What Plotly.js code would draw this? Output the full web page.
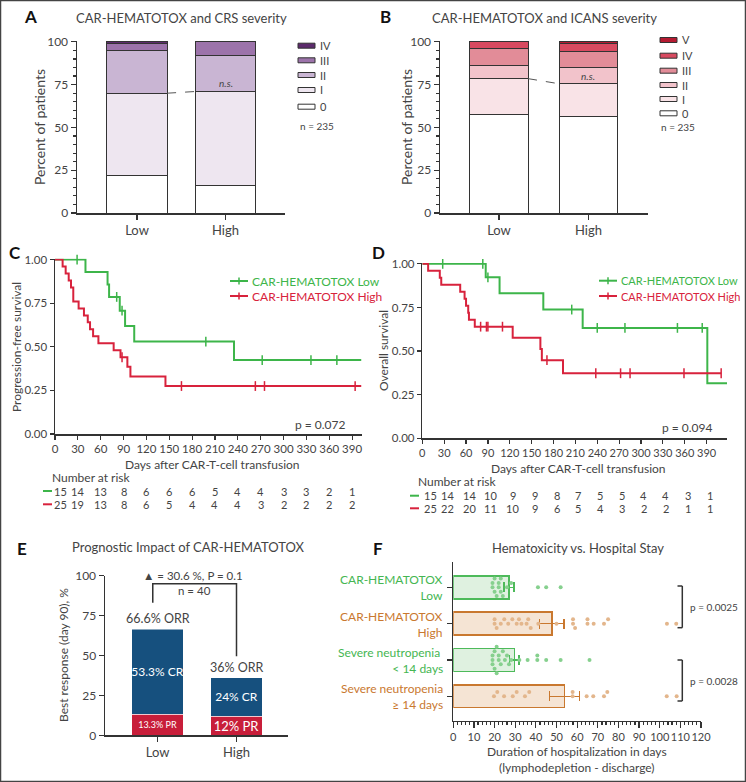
<!DOCTYPE html>
<html><head><meta charset="utf-8">
<script src="https://cdn.plot.ly/plotly-3.0.1.min.js"></script>
<style>html,body{margin:0;padding:0;background:#fff}#chart{width:746px;height:782px}</style>
</head><body><div id="chart"></div>
<script>
// ================= DATA =================
const groups = ['Low', 'High'];
// Panel A: CRS severity (% of patients, stacked segments)
const crsGrades = ['0', 'I', 'II', 'III', 'IV'];
const crsLow  = [22, 48, 25, 4, 1];
const crsHigh = [16, 55, 21, 8, 0];
// Panel B: ICANS severity
const icansGrades = ['0', 'I', 'II', 'III', 'IV', 'V'];
const icansLow  = [57.5, 21, 7.5, 10, 4, 0];
const icansHigh = [56.5, 19, 9.5, 9.5, 4.5, 1];
const cohortN = 235;
// Panel C: progression-free survival (step times / survival, censor times)
const pfsLowT  = [0, 40, 69, 71, 85, 92, 104, 235];
const pfsLowS  = [1, 0.929, 0.857, 0.786, 0.707, 0.619, 0.530, 0.424];
const pfsLowEnd = 402;
const pfsLowCens = [29, 81, 88, 198, 272, 336, 370];
const pfsHighT = [0, 10, 14, 18, 21, 24, 31, 38, 43, 46, 50, 57, 77, 86, 95, 99, 145];
const pfsHighS = [1, 0.96, 0.92, 0.88, 0.84, 0.76, 0.72, 0.68, 0.64, 0.60, 0.56, 0.52, 0.48, 0.44, 0.385, 0.33, 0.275];
const pfsHighEnd = 402;
const pfsHighCens = [88, 166, 263, 275, 394];
const pfsP = 'p = 0.072';
// Panel D: overall survival
const osLowT  = [0, 87, 106, 166, 220, 391];
const osLowS  = [1, 0.923, 0.831, 0.738, 0.633, 0.316];
const osLowEnd = 418;
const osLowCens = [28, 83, 90, 205, 240, 278, 350, 384];
const osHighT = [0, 8, 24, 26, 52, 58, 60, 63, 64, 72, 124, 162, 164, 193];
const osHighS = [1, 0.96, 0.92, 0.88, 0.84, 0.80, 0.76, 0.72, 0.68, 0.64, 0.576, 0.512, 0.448, 0.373];
const osHighEnd = 410;
const osHighCens = [80, 88, 90, 110, 171, 238, 272, 285, 359, 410];
const osP = 'p = 0.094';
// Numbers at risk
const riskDays = [0, 30, 60, 90, 120, 150, 180, 210, 240, 270, 300, 330, 360, 390];
const pfsRiskLow  = [15, 14, 13, 8, 6, 6, 6, 5, 4, 4, 3, 3, 2, 1];
const pfsRiskHigh = [25, 19, 13, 8, 6, 5, 4, 4, 4, 3, 2, 2, 2, 2];
const osRiskLow   = [15, 14, 14, 10, 9, 9, 8, 7, 5, 5, 4, 4, 3, 1];
const osRiskHigh  = [25, 22, 20, 11, 10, 9, 6, 5, 4, 3, 2, 2, 1, 1];
// Panel E: best response day 90 (%)
const prVals = [13.3, 12];
const crVals = [53.3, 24];
const deltaText = '▲ = 30.6 %, P = 0.1';
const respN = 'n = 40';
// Panel F: hospital stay (days)
const hospCats = ['CAR-HEMATOTOX<br>Low', 'CAR-HEMATOTOX<br>High', 'Severe neutropenia <br>&lt; 14 days', 'Severe neutropenia<br>≥ 14 days'];
const hospMean = [27, 47.7, 29.6, 53.8];
const hospErr  = [2.4, 5.9, 2.3, 7.3];
const hospDotsLow  = [19, 19, 20, 20, 21, 22, 22, 23, 23, 24, 26, 28, 41, 45, 52];
const hospDotsHigh = [20, 20, 21, 23, 24.7, 26.6, 28.6, 30.7, 31.8, 33, 35.5, 36.3, 37.5, 41.2, 50, 58, 58, 59, 65, 65, 68, 73, 75, 103.5, 108];
const hospDotsShort = [19, 19, 19, 20, 20, 21, 21, 22, 22, 23, 24, 25, 26, 27, 28, 32, 36, 40.7, 40.7, 45, 52, 66];
const hospDotsLong  = [19.7, 21.3, 24.6, 28.8, 30.7, 34.7, 36.8, 57.8, 57.8, 64.6, 67.8, 73, 74.6, 103.4, 108.2];
const hospP = ['p = 0.0025', 'p = 0.0028'];

// ================= STYLE / HELPERS =================
const W = 746, H = 782;
const PX = x => x / W, PY = y => 1 - y / H;
const FONT = 'Lato, "Noto Sans", sans-serif';
const DARK = '#333', TXT = '#444';
const GREEN = '#3db54a', RED = '#d8223c';
const crsColors = ['#ffffff', '#eee6f0', '#c9b5d3', '#9c73aa', '#5c2a6c'];
const icansColors = ['#ffffff', '#f9e3e7', '#f2c3cb', '#e28c98', '#d84a60', '#b51a31'];
const CR_BLUE = '#16507e', PR_RED = '#c81e3a';
const F_GREEN = '#4dba5a', F_GREEN_FILL = '#dff1e0', F_GREEN_DOT = '#86d08e';
const F_ORANGE = '#c9782f', F_ORANGE_FILL = '#f5e4d4', F_ORANGE_DOT = '#e3b68c';

const traces = [], shapes = [], annotations = [];
function ann(text, x, y, o = {}) {
  annotations.push(Object.assign({
    text, x: PX(x), y: PY(y), xref: 'paper', yref: 'paper', showarrow: false,
    xanchor: 'center', yanchor: 'middle', font: {family: FONT, size: 12, color: TXT}
  }, o));
}
function pline(x0, y0, x1, y1, color = DARK, width = 1.5, dash = 'solid') {
  shapes.push({type: 'line', xref: 'paper', yref: 'paper', x0: PX(x0), y0: PY(y0), x1: PX(x1), y1: PY(y1), line: {color, width, dash}});
}

// ---------- Panels A & B: stacked bars ----------
function stacked(grades, lowV, highV, colors, xa, ya, w) {
  grades.forEach((g, i) => {
    traces.push({type: 'bar', x: [0, 1], y: [lowV[i], highV[i]], width: w, xaxis: xa, yaxis: ya,
      marker: {color: colors[i], line: {color: DARK, width: 1}}, hoverinfo: 'skip', showlegend: false});
  });
  const cl = lowV[0] + lowV[1], ch = highV[0] + highV[1];
  shapes.push({type: 'line', xref: xa, yref: ya, x0: w / 2, x1: 1 - w / 2, y0: cl, y1: ch,
    line: {color: '#555', width: 1, dash: 'dash'}});
}
stacked(crsGrades, crsLow, crsHigh, crsColors, 'x', 'y', 0.68);
stacked(icansGrades, icansLow, icansHigh, icansColors, 'x2', 'y2', 0.65);

// legends A & B
function barLegend(grades, colors, sx, ys, nY, nX) {
  for (let i = grades.length - 1, k = 0; i >= 0; i--, k++) {
    const yc = ys[k];
    shapes.push({type: 'rect', xref: 'paper', yref: 'paper', x0: PX(sx), x1: PX(sx + 17), y0: PY(yc + 2.5), y1: PY(yc - 2.5),
      fillcolor: colors[i], line: {color: DARK, width: 1}});
    ann(grades[i], sx + 20, yc, {xanchor: 'left', font: {family: FONT, size: 11, color: TXT}});
  }
  ann('n = ' + cohortN, nX, nY, {xanchor: 'left', font: {family: FONT, size: 10, color: TXT}});
}
barLegend(crsGrades, crsColors, 298, [45.7, 60.3, 75, 90, 106.7], 126, 298);
barLegend(icansGrades, icansColors, 660, [40, 55.7, 70.7, 85, 99, 113.3], 126.7, 659);

// ---------- Panels C & D: Kaplan-Meier ----------
function survAt(T, S, t) { let s = S[0]; for (let i = 0; i < T.length; i++) if (T[i] <= t) s = S[i]; return s; }
function km(T, S, end, cens, color, xa, ya) {
  traces.push({type: 'scatter', mode: 'lines', x: [...T, end], y: [...S, S[S.length - 1]], xaxis: xa, yaxis: ya,
    line: {shape: 'hv', color, width: 2}, hoverinfo: 'skip', showlegend: false});
  traces.push({type: 'scatter', mode: 'markers', x: cens, y: cens.map(t => survAt(T, S, t)), xaxis: xa, yaxis: ya,
    marker: {symbol: 'line-ns', size: 7, color, line: {color, width: 1.5}}, hoverinfo: 'skip', showlegend: false, cliponaxis: false});
}
km(pfsLowT, pfsLowS, pfsLowEnd, pfsLowCens, GREEN, 'x3', 'y3');
km(pfsHighT, pfsHighS, pfsHighEnd, pfsHighCens, RED, 'x3', 'y3');
km(osLowT, osLowS, osLowEnd, osLowCens, GREEN, 'x4', 'y4');
km(osHighT, osHighS, osHighEnd, osHighCens, RED, 'x4', 'y4');

function kmLegend(x0, yL, yH, fs) {
  [[yL, GREEN, 'CAR-HEMATOTOX Low'], [yH, RED, 'CAR-HEMATOTOX High']].forEach(([y, c, t]) => {
    pline(x0, y, x0 + 18, y, c, 2);
    pline(x0 + 9, y - 3.5, x0 + 9, y + 3.5, c, 1.5);
    ann(t, x0 + 20, y, {xanchor: 'left', font: {family: FONT, size: fs, color: c}});
  });
}
kmLegend(230, 281, 296, 12);
kmLegend(599, 280.7, 296, 11);

function riskTable(xa, low, high, yL, yH, dashX, titleX, titleY, firstShift, shift) {
  ann('Number at risk', titleX, titleY, {xanchor: 'left', font: {family: FONT, size: 12, color: TXT}});
  pline(dashX, yL, dashX + 9, yL, GREEN, 2);
  pline(dashX, yH, dashX + 9, yH, RED, 2);
  riskDays.forEach((d, i) => {
    [[low[i], yL], [high[i], yH]].forEach(([v, y]) => {
      annotations.push({text: String(v), x: d, xref: xa, y: PY(y), yref: 'paper', showarrow: false,
        xanchor: 'center', yanchor: 'middle', xshift: i === 0 ? firstShift : shift,
        font: {family: FONT, size: 11, color: TXT}});
    });
  });
}
riskTable('x3', pfsRiskLow, pfsRiskHigh, 491, 504.3, 43, 50, 477.7, 6, 0);
riskTable('x4', osRiskLow, osRiskHigh, 495.7, 508.3, 410, 416, 481, 8, 3);

// ---------- Panel E: response ----------
const fmt = v => String(Math.round(v * 10) / 10);
traces.push({type: 'bar', x: [0, 1], y: prVals, width: 0.653, xaxis: 'x5', yaxis: 'y5',
  marker: {color: PR_RED, line: {color: '#fff', width: 0.5}}, text: prVals.map(v => fmt(v) + '% PR'),
  textposition: 'inside', insidetextanchor: 'middle', textangle: 0, constraintext: 'none',
  textfont: {family: FONT, size: [9, 13], color: '#fff'}, hoverinfo: 'skip', showlegend: false});
traces.push({type: 'bar', x: [0, 1], y: crVals, width: 0.653, xaxis: 'x5', yaxis: 'y5',
  marker: {color: CR_BLUE, line: {color: '#fff', width: 0.5}}, text: crVals.map(v => fmt(v) + '% CR'),
  textposition: 'inside', insidetextanchor: 'middle', textangle: 0, constraintext: 'none',
  textfont: {family: FONT, size: 12, color: '#fff'}, hoverinfo: 'skip', showlegend: false});
[0, 1].forEach(i => {
  annotations.push({text: fmt(prVals[i] + crVals[i]) + '% ORR', x: i, y: prVals[i] + crVals[i], xref: 'x5', yref: 'y5',
    showarrow: false, yanchor: 'bottom', yshift: 1, font: {family: FONT, size: 12.5, color: TXT}});
});
shapes.push({type: 'path', xref: 'x5', yref: 'y5', path: 'M -0.06 83 L -0.06 95 L 1 95 L 1 49.5',
  line: {color: DARK, width: 1.5}});
ann(deltaText, 193, 575, {font: {family: FONT, size: 11.5, color: TXT}});
ann(respN, 194, 590.7, {font: {family: FONT, size: 11.5, color: TXT}});

// ---------- Panel F: hospital stay ----------
traces.push({type: 'bar', orientation: 'h', y: [0, 2], x: [hospMean[0], hospMean[2]], width: 0.63, xaxis: 'x6', yaxis: 'y6',
  marker: {color: F_GREEN_FILL, line: {color: F_GREEN, width: 1.5}},
  error_x: {type: 'data', array: [hospErr[0], hospErr[2]], color: F_GREEN, thickness: 1.5, width: 5},
  hoverinfo: 'skip', showlegend: false});
traces.push({type: 'bar', orientation: 'h', y: [1, 3], x: [hospMean[1], hospMean[3]], width: 0.63, xaxis: 'x6', yaxis: 'y6',
  marker: {color: F_ORANGE_FILL, line: {color: F_ORANGE, width: 1.5}},
  error_x: {type: 'data', array: [hospErr[1], hospErr[3]], color: F_ORANGE, thickness: 1.5, width: 5},
  hoverinfo: 'skip', showlegend: false});
const fxPx = 247.7 / 120, fyPx = 36.3;
function swarm(vals, center) {
  const d = 4.4, placed = [], xs = [], ys = [];
  vals.slice().sort((a, b) => a - b).forEach(v => {
    const xp = v * fxPx;
    for (let k = 0; k < 40; k++) {
      const off = (k % 2 ? -1 : 1) * Math.ceil(k / 2) * d;
      if (placed.every(p => Math.hypot(p[0] - xp, p[1] - off) >= d)) {
        placed.push([xp, off]); xs.push(v); ys.push(center + off / fyPx); break;
      }
    }
  });
  return {xs, ys};
}
[[hospDotsLow, 0, F_GREEN_DOT], [hospDotsHigh, 1, F_ORANGE_DOT], [hospDotsShort, 2, F_GREEN_DOT], [hospDotsLong, 3, F_ORANGE_DOT]]
  .forEach(([vals, c, col]) => {
    const s = swarm(vals, c);
    traces.push({type: 'scatter', mode: 'markers', x: s.xs, y: s.ys, xaxis: 'x6', yaxis: 'y6',
      marker: {size: 4, color: col}, hoverinfo: 'skip', showlegend: false});
  });
const fLabelY = [587.3, 624, 660.3, 696.3];
hospCats.forEach((t, i) => ann(t, 445, fLabelY[i], {xanchor: 'right', align: 'right',
  font: {family: FONT, size: 12, color: i % 2 ? F_ORANGE : '#45b652'}}));
[[586, 627.7, 607], [660, 701, 681]].forEach(([a, b, m], i) => {
  pline(682.3, a, 682.3, b); pline(677.5, a, 682.3, a); pline(677.5, b, 682.3, b);
  ann(hospP[i], 688, m, {xanchor: 'left', font: {family: FONT, size: 10, color: TXT}});
});

// ---------- Titles, panel letters, axis titles ----------
const letter = {family: FONT, size: 17, color: '#111'};
ann('<b>A</b>', 30, 17, {font: letter});
ann('<b>B</b>', 385, 17, {font: letter});
ann('<b>C</b>', 15, 252, {font: letter});
ann('<b>D</b>', 378, 252, {font: letter});
ann('<b>E</b>', 22, 548, {font: letter});
ann('<b>F</b>', 378, 548, {font: letter});
const tfont = {family: FONT, size: 13, color: TXT};
ann('CAR-HEMATOTOX and CRS severity', 181, 18, {font: tfont});
ann('CAR-HEMATOTOX and ICANS severity', 544, 18, {font: tfont});
ann('Prognostic Impact of CAR-HEMATOTOX', 188, 547, {font: tfont});
ann('Hematoxicity vs. Hospital Stay', 578, 547.7, {font: tfont});
ann('<i>n.s.</i>', 225.7, 83.3, {font: {family: FONT, size: 10, color: TXT}});
ann('<i>n.s.</i>', 588, 76, {font: {family: FONT, size: 10, color: TXT}});
ann('Percent of patients', 40, 127, {textangle: -90, font: {family: FONT, size: 14, color: TXT}});
ann('Percent of patients', 407, 127, {textangle: -90, font: {family: FONT, size: 14, color: TXT}});
ann('Progression-free survival', 17, 347, {textangle: -90, font: {family: FONT, size: 12, color: TXT}});
ann('Overall survival', 383, 351, {textangle: -90, font: {family: FONT, size: 12, color: TXT}});
ann('Days after CAR-T-cell transfusion', 212, 465, {font: {family: FONT, size: 12, color: TXT}});
ann('Days after CAR-T-cell transfusion', 578, 468, {font: {family: FONT, size: 12, color: TXT}});
ann(pfsP, 320, 424, {font: {family: FONT, size: 12, color: TXT}});
ann(osP, 687, 427.7, {font: {family: FONT, size: 12, color: TXT}});
ann('Best response (day 90), %', 63, 655, {textangle: -90, font: {family: FONT, size: 12, color: TXT}});
ann('Duration of hospitalization in days<br>(lymphodepletion - discharge)', 577, 759, {font: {family: FONT, size: 12, color: TXT}});

// outer frame
shapes.push({type: 'rect', xref: 'paper', yref: 'paper', x0: 0, y0: 0, x1: 1, y1: 1, line: {color: '#444', width: 2.5}});

// ================= AXES =================
const ax = (o) => Object.assign({showline: true, linecolor: DARK, linewidth: 1.5, ticks: 'outside', ticklen: 5,
  tickwidth: 1.2, tickcolor: DARK, tickfont: {family: FONT, size: 11, color: TXT}, showgrid: false, zeroline: false,
  fixedrange: true, tickangle: 0}, o);
const layout = {
  width: W, height: H, margin: {l: 0, r: 0, t: 0, b: 0}, paper_bgcolor: '#fff', plot_bgcolor: 'rgba(0,0,0,0)',
  showlegend: false, barmode: 'stack', font: {family: FONT, color: TXT},
  xaxis: ax({domain: [PX(77), PX(285)], range: [-0.678, 1.672], tickvals: [0, 1], ticktext: groups, tickfont: {family: FONT, size: 13, color: TXT}, anchor: 'y'}),
  yaxis: ax({domain: [PY(213), PY(41)], range: [0, 100.5], tickvals: [0, 25, 50, 75, 100], anchor: 'x',
    minor: {dtick: 5, ticklen: 3, ticks: 'outside', tickcolor: DARK}, tickfont: {family: FONT, size: 12, color: TXT}}),
  xaxis2: ax({domain: [PX(440), PX(648)], range: [-0.659, 1.665], tickvals: [0, 1], ticktext: groups, tickfont: {family: FONT, size: 13, color: TXT}, anchor: 'y2'}),
  yaxis2: ax({domain: [PY(213), PY(41)], range: [0, 100.5], tickvals: [0, 25, 50, 75, 100], anchor: 'x2',
    minor: {dtick: 5, ticklen: 3, ticks: 'outside', tickcolor: DARK}, tickfont: {family: FONT, size: 12, color: TXT}}),
  xaxis3: ax({domain: [PX(55), PX(362)], range: [0, 403], tickvals: riskDays, ticklen: 4, tickfont: {family: FONT, size: 11.5, color: TXT}, anchor: 'y3'}),
  yaxis3: ax({domain: [PY(434), PY(258.7)], range: [0, 1.005], tickvals: [0, 0.25, 0.5, 0.75, 1], tickformat: '.2f', ticklen: 4, tickfont: {family: FONT, size: 11.5, color: TXT}, anchor: 'x3'}),
  xaxis4: ax({domain: [PX(422.3), PX(727)], range: [0, 418], tickvals: riskDays, ticklen: 4, tickfont: {family: FONT, size: 11, color: TXT}, anchor: 'y4'}),
  yaxis4: ax({domain: [PY(438.3), PY(263)], range: [0, 1.005], tickvals: [0, 0.25, 0.5, 0.75, 1], tickformat: '.2f', ticklen: 4, tickfont: {family: FONT, size: 11.5, color: TXT}, anchor: 'x4'}),
  xaxis5: ax({domain: [PX(105), PX(288)], range: [-0.665, 1.652], tickvals: [0, 1], ticktext: groups, tickfont: {family: FONT, size: 13, color: TXT}, anchor: 'y5'}),
  yaxis5: ax({domain: [PY(735.3), PY(575.7)], range: [0, 100], tickvals: [0, 25, 50, 75, 100], tickfont: {family: FONT, size: 12, color: TXT}, anchor: 'x5'}),
  xaxis6: ax({domain: [PX(453.3), PX(701)], range: [0, 120], tickvals: [0,10,20,30,40,50,60,70,80,90,100,110,120], ticklen: 6,
    minor: {dtick: 2, ticklen: 3, ticks: 'outside', tickcolor: DARK}, tickfont: {family: FONT, size: 11, color: TXT}, anchor: 'y6'}),
  yaxis6: ax({domain: [PY(720.7), PY(562)], range: [3.672, -0.697], tickvals: [0, 1, 2, 3], showticklabels: false, anchor: 'x6'}),
  shapes, annotations
};
Plotly.newPlot('chart', traces, layout, {staticPlot: true, displayModeBar: false});
</script></body></html>
